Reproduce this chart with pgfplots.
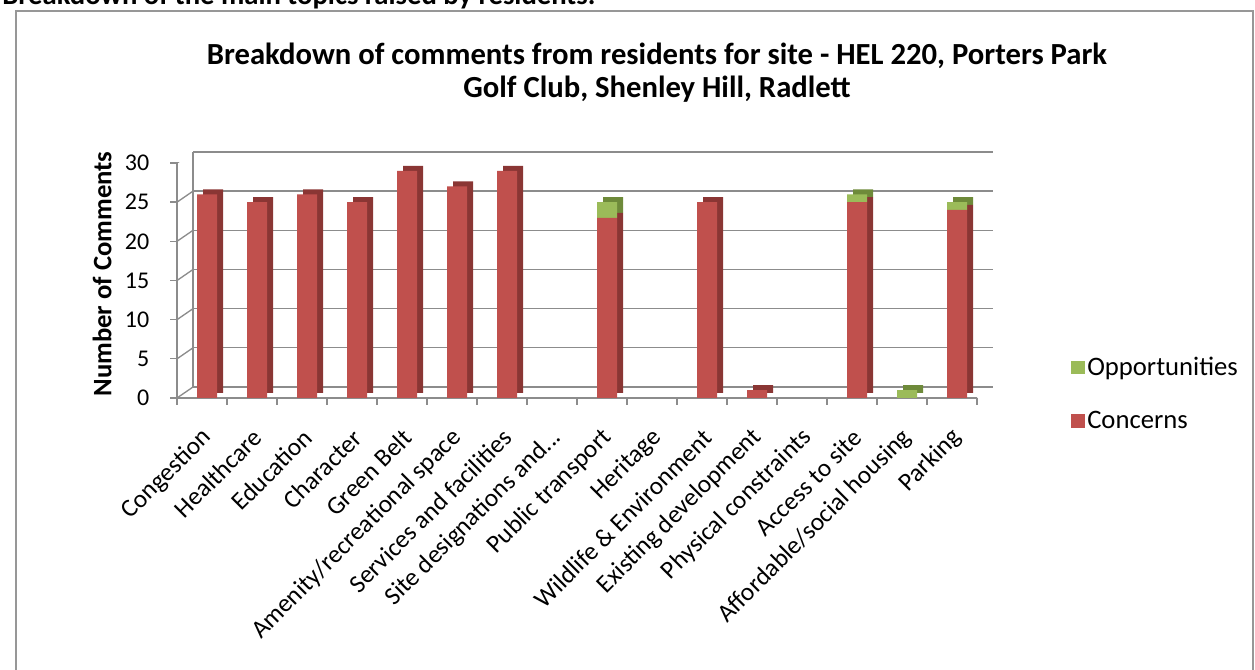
\documentclass[border=0pt]{standalone}
\usepackage{pgfplots}
\usepackage{pgfplotstable}
\pgfplotsset{compat=1.18}
\usepackage{fontspec}
\setmainfont{Carlito}
\definecolor{cred}{HTML}{C0504D}
\definecolor{credd}{HTML}{8A3634}
\definecolor{cgrn}{HTML}{9BBB59}
\definecolor{cgrnd}{HTML}{6E8A3A}
\definecolor{gridc}{HTML}{8C8C8C}

\pgfplotstableread{
x con opp
0 26 0
1 25 0
2 26 0
3 25 0
4 29 0
5 27 0
6 29 0
7 0 0
8 23 2
9 0 0
10 25 0
11 1 0
12 0 0
13 25 1
14 0 1
15 24 1
}\datatable

\pgfplotsset{
  base/.style={scale only axis, width=600pt, height=176.25pt,
    xmin=-0.5, xmax=15.5, ymin=0, ymax=30, anchor=south west},
  sqleg/.style={legend image code/.code={\fill[##1] (0pt,-5pt) rectangle (10pt,5pt);}}
}

\begin{document}
\begin{tikzpicture}
\useasboundingbox (0,0) rectangle (941.25pt,502.5pt);
\draw[gridc!90, line width=1.1pt] (12pt,-10pt) rectangle (939.75pt,494.25pt);
\node[anchor=base west, inner sep=0pt, font=\bfseries\fontsize{21.5}{24}\selectfont] at (1.5pt,499pt) {Breakdown of the main topics raised by residents.};
\node[align=center, font=\bfseries\fontsize{23}{24.75}\selectfont] at (492.75pt,447.75pt) {Breakdown of comments from residents for site - HEL 220, Porters Park\\Golf Club, Shenley Hill, Radlett};
\node[rotate=90, font=\bfseries\fontsize{20}{22}\selectfont] at (76.5pt,297pt) {Number of Comments};

% back wall
\begin{axis}[base, at={(144.75pt,212.25pt)},
  axis x line=none, axis y line*=left,
  y axis line style={gridc, line width=1pt},
  ytick={0,5,...,30}, yticklabels={}, major tick length=0pt,
  ymajorgrids, grid style={gridc, line width=1pt}, xtick=\empty]
\addplot[draw=none] coordinates {(0,0)};
\end{axis}

% shadow (depth) of bars
\begin{axis}[base, at={(137.25pt,207.75pt)}, hide axis,
  ybar stacked, bar width=15pt, bar shift=3.75pt]
\addplot[fill=credd, draw=none] table[x=x,y=con]{\datatable};
\addplot[fill=cgrnd, draw=none] table[x=x,y=opp]{\datatable};
\end{axis}

% front
\begin{axis}[base, at={(132.75pt,204pt)},
  ybar stacked, bar width=15pt, bar shift=3.75pt,
  axis x line*=bottom, axis y line*=left,
  axis line style={gridc, line width=1pt},
  tick align=outside, major tick length=5.25pt,
  tick style={gridc, line width=1pt},
  xtick={-0.5,0.5,...,15.5}, xticklabels={},
  extra x ticks={0,1,2,3,4,5,6,7,8,9,10,11,12,13,14,15},
  extra x tick labels={{Congestion},{Healthcare},{Education},{Character},{Green Belt},{Amenity/recreational space},{Services and facilities},{Site designations and{...}},{Public transport},{Heritage},{Wildlife \& Environment},{Existing development},{Physical constraints},{Access to site},{Affordable/social housing},{Parking}},
  extra x tick style={major tick length=0pt,
    xticklabel style={xshift=5pt, yshift=-26pt, rotate=45, anchor=east, font=\fontsize{19}{21}\selectfont, inner sep=1pt}},
  ytick={0,5,...,30},
  yticklabel style={font=\fontsize{18}{20}\selectfont, xshift=-12pt},
  /pgf/number format/assume math mode=true,
  reverse legend,
  legend style={at={(1.1175,0.017)}, anchor=west, draw=none, fill=none,
    row sep=21pt, font=\fontsize{20}{22}\selectfont, inner sep=0pt,
    cells={anchor=west}},
]
\addplot[fill=cred, draw=none, sqleg] table[x=x,y=con]{\datatable};
\addlegendentry{Concerns}
\addplot[fill=cgrn, draw=none, sqleg] table[x=x,y=opp]{\datatable};
\addlegendentry{Opportunities}
\pgfplotsinvokeforeach{0,5,10,15,20,25,30}{
  \draw[gridc, line width=1pt] (axis cs:-0.5,#1) -- ++(12pt,8.25pt);
}
\draw[gridc, line width=1pt] (axis cs:15.5,0) -- ++(12pt,8.25pt);
\end{axis}
\end{tikzpicture}
\end{document}
